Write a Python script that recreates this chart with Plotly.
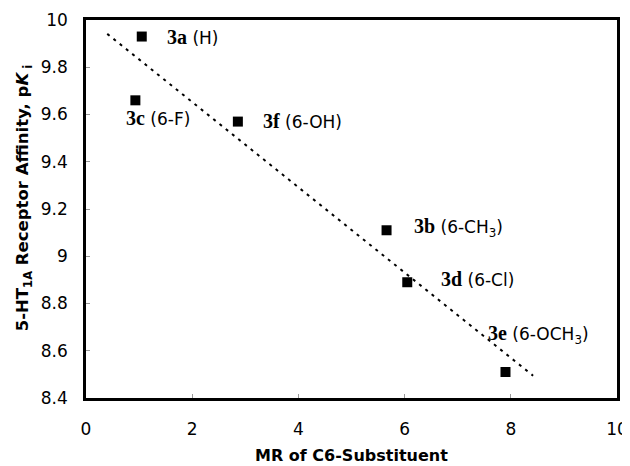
import numpy as np
import plotly.graph_objects as go

# Data
compounds = ["3a", "3c", "3f", "3b", "3d", "3e"]
substituents = ["(H)", "(6-F)", "(6-OH)", "(6-CH<sub>3</sub>)", "(6-Cl)", "(6-OCH<sub>3</sub>)"]
mr_values = [1.05, 0.93, 2.86, 5.66, 6.05, 7.90]
pki_values = [9.93, 9.66, 9.57, 9.11, 8.89, 8.51]
y_ticks = [8.4, 8.6, 8.8, 9.0, 9.2, 9.4, 9.6, 9.8, 10.0]
x_ticks = [0, 2, 4, 6, 8, 10]
x_range = [0, 10]
y_range = [8.4, 10]

# label anchor positions (data units)
label_x = [1.49, 0.72, 3.30, 6.13, 6.64, 7.54]
label_y = [9.93, 9.585, 9.574, 9.123, 8.902, 8.667]

trend_x_range = [0.40, 8.42]

slope, intercept = np.polyfit(mr_values, pki_values, 1)
tx = np.array(trend_x_range)
ty = slope * tx + intercept

SANS = "DejaVu Sans, Arial"
W, H = 622, 458
ML, MR, MT, MB = 78, 13, 12, 68

fig = go.Figure()

fig.add_trace(go.Scatter(x=tx, y=ty, mode="lines",
                         line=dict(color="black", width=2, dash="3px,5px"),
                         showlegend=False, hoverinfo="skip"))
fig.add_trace(go.Scatter(x=mr_values, y=pki_values, mode="markers",
                         marker=dict(symbol="square", size=10, color="black"),
                         showlegend=False))

for c, s, lx, ly in zip(compounds, substituents, label_x, label_y):
    fig.add_annotation(
        x=lx, y=ly, xref="x", yref="y", xanchor="left", yanchor="middle",
        showarrow=False,
        text=f"<span style='font-family:Liberation Serif;font-weight:bold;font-size:20px'>{c}</span> {s}",
        font=dict(family=SANS, size=17, color="black"),
    )

# axis titles
fig.add_annotation(x=0.5, y=-0.151, xref="paper", yref="paper", xanchor="center", yanchor="middle",
                   showarrow=False, text="<b>MR of C6-Substituent</b>",
                   font=dict(family=SANS, size=16, color="black"))
fig.add_annotation(x=-0.117, y=0.528, xref="paper", yref="paper", xanchor="center", yanchor="middle",
                   showarrow=False, textangle=-90,
                   text="<b>5-HT<sub>1A</sub> Receptor Affinity, p<i>K</i><sub> i</sub></b>",
                   font=dict(family=SANS, size=16.5, color="black"))

axis_common = dict(
    showline=True, linecolor="black", linewidth=2.5, mirror=True,
    ticks="inside", ticklen=4, tickwidth=1, tickcolor="#999",
    showgrid=False, zeroline=False, automargin=False,
    tickfont=dict(family=SANS, size=17, color="black"),
)

fig.update_layout(
    width=W, height=H,
    margin=dict(l=ML, r=MR, t=MT, b=MB),
    plot_bgcolor="white", paper_bgcolor="white",
    xaxis=dict(range=x_range, tickvals=x_ticks, ticklabelstandoff=14, **axis_common),
    yaxis=dict(range=y_range, tickvals=y_ticks, ticktext=[f"{v:g}" for v in y_ticks],
               ticklabelstandoff=12, **axis_common),
)

fig.write_html("out.html")
